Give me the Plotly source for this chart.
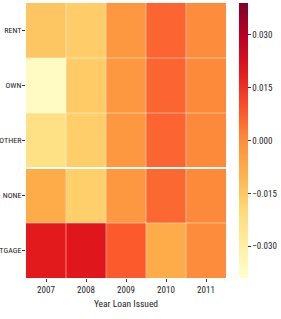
import plotly.graph_objects as go

years = ["2007", "2008", "2009", "2010", "2011"]
home_ownership = ["RENT", "OWN", "OTHER", "NONE", "MORTGAGE"]

rent = [-0.0148, -0.0164, -0.0030, 0.0062, 0.0000]
own = [-0.0370, -0.0160, -0.0030, 0.0062, 0.0005]
other = [-0.0230, -0.0168, -0.0030, 0.0062, 0.0005]
none_ = [-0.0078, -0.0170, -0.0030, 0.0058, 0.0005]
mortgage = [0.0195, 0.0205, 0.0080, -0.0080, 0.0000]

z = [rent, own, other, none_, mortgage]

ylorrd = [
    [0.0, "#ffffcc"], [0.125, "#ffeda0"], [0.25, "#fed976"], [0.375, "#feb24c"],
    [0.5, "#fd8d3c"], [0.625, "#fc4e2a"], [0.75, "#e31a1c"], [0.875, "#bd0026"],
    [1.0, "#800026"],
]

cb_vals = [-0.03, -0.015, 0.0, 0.015, 0.03]
cb_text = ["\u22120.030", "\u22120.015", "0.000", "0.015", "0.030"]

font_family = "Roboto Condensed, DejaVu Sans, sans-serif"

fig = go.Figure(go.Heatmap(
    z=z, x=years, y=home_ownership,
    colorscale=ylorrd, zmin=-0.039, zmax=0.039,
    colorbar=dict(
        x=1.065, xanchor="left", xref="paper", thickness=9, len=1.0, y=0.5, yanchor="middle",
        xpad=0, ypad=0,
        outlinewidth=0, tickvals=cb_vals, ticktext=cb_text, ticks="outside", ticklen=3,
        tickcolor="#333", tickfont=dict(size=9, color="#222", family=font_family),
    ),
))

shapes = []
for i in range(1, 5):
    shapes.append(dict(type="line", xref="x", yref="paper", x0=i - 0.5, x1=i - 0.5, y0=0, y1=1,
                       line=dict(color="rgba(255,255,255,0.45)", width=1)))
for j in range(1, 5):
    w = 2 if j == 3 else 1
    c = "rgba(255,255,255,1)" if j == 3 else "rgba(255,255,255,0.45)"
    shapes.append(dict(type="line", yref="y", xref="paper", y0=j - 0.5, y1=j - 0.5, x0=0, x1=1,
                       line=dict(color=c, width=w)))

fig.update_layout(
    width=281, height=319,
    margin=dict(l=26, r=55, t=3, b=41),
    paper_bgcolor="white", plot_bgcolor="white",
    font=dict(family=font_family, size=9, color="#222"),
    shapes=shapes,
    xaxis=dict(title=dict(text="Year Loan Issued", standoff=6, font=dict(size=9.5)),
               ticks="outside", ticklen=3, tickcolor="#333", showgrid=False, zeroline=False,
               automargin=False, showline=False),
    yaxis=dict(autorange="reversed", ticks="outside", ticklen=3, tickcolor="#333",
               ticklabelstandoff=-1,
               tickfont=dict(size=8), showgrid=False, zeroline=False, automargin=False,
               showline=False),
)

fig.write_html("out.html", config={"displayModeBar": False},
               post_script="document.body.style.margin='0';")
